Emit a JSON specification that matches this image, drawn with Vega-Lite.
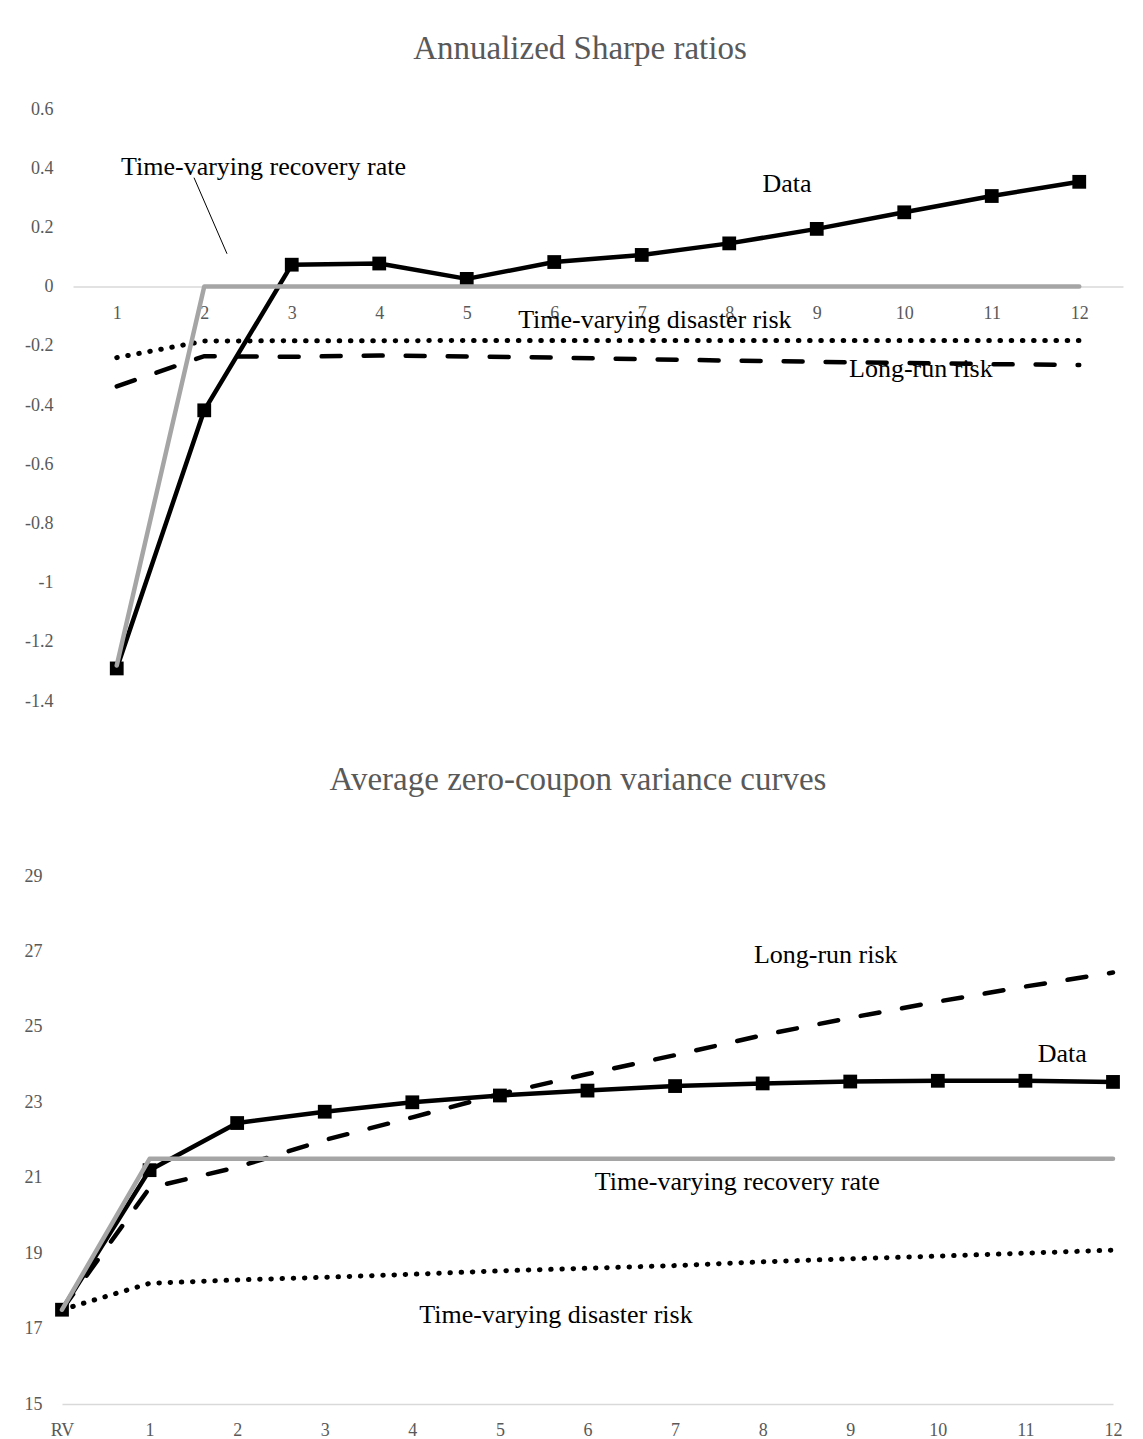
{
  "$schema": "https://vega.github.io/schema/vega-lite/v6.json",
  "padding": {"left": 24, "top": 33, "right": 0, "bottom": 0},
  "background": "white",
  "spacing": 54,
  "config": {
    "font": "Liberation Serif",
    "view": {"stroke": null},
    "axis": {"labelFont": "Liberation Serif", "labelColor": "#595959", "labelFontSize": 18, "ticks": false, "grid": false, "title": null}
  },
  "datasets": {
    "sharpe": [
      {"m": 1, "v": -1.29, "series": "Data"}, {"m": 2, "v": -0.418, "series": "Data"}, {"m": 3, "v": 0.074, "series": "Data"}, {"m": 4, "v": 0.078, "series": "Data"},
      {"m": 5, "v": 0.026, "series": "Data"}, {"m": 6, "v": 0.083, "series": "Data"}, {"m": 7, "v": 0.107, "series": "Data"}, {"m": 8, "v": 0.146, "series": "Data"},
      {"m": 9, "v": 0.195, "series": "Data"}, {"m": 10, "v": 0.251, "series": "Data"}, {"m": 11, "v": 0.306, "series": "Data"}, {"m": 12, "v": 0.354, "series": "Data"},
      {"m": 1, "v": -0.337, "series": "Long-run risk"}, {"m": 2, "v": -0.235, "series": "Long-run risk"}, {"m": 3, "v": -0.237, "series": "Long-run risk"}, {"m": 4, "v": -0.233, "series": "Long-run risk"},
      {"m": 5, "v": -0.236, "series": "Long-run risk"}, {"m": 6, "v": -0.24, "series": "Long-run risk"}, {"m": 7, "v": -0.245, "series": "Long-run risk"}, {"m": 8, "v": -0.25, "series": "Long-run risk"},
      {"m": 9, "v": -0.254, "series": "Long-run risk"}, {"m": 10, "v": -0.258, "series": "Long-run risk"}, {"m": 11, "v": -0.262, "series": "Long-run risk"}, {"m": 12, "v": -0.265, "series": "Long-run risk"},
      {"m": 1, "v": -0.24, "series": "Time-varying disaster risk"}, {"m": 2, "v": -0.184, "series": "Time-varying disaster risk"}, {"m": 3, "v": -0.183, "series": "Time-varying disaster risk"}, {"m": 4, "v": -0.183, "series": "Time-varying disaster risk"},
      {"m": 5, "v": -0.182, "series": "Time-varying disaster risk"}, {"m": 6, "v": -0.182, "series": "Time-varying disaster risk"}, {"m": 7, "v": -0.182, "series": "Time-varying disaster risk"}, {"m": 8, "v": -0.182, "series": "Time-varying disaster risk"},
      {"m": 9, "v": -0.182, "series": "Time-varying disaster risk"}, {"m": 10, "v": -0.182, "series": "Time-varying disaster risk"}, {"m": 11, "v": -0.182, "series": "Time-varying disaster risk"}, {"m": 12, "v": -0.182, "series": "Time-varying disaster risk"},
      {"m": 1, "v": -1.28, "series": "Time-varying recovery rate"}, {"m": 2, "v": 0, "series": "Time-varying recovery rate"}, {"m": 3, "v": 0, "series": "Time-varying recovery rate"}, {"m": 4, "v": 0, "series": "Time-varying recovery rate"},
      {"m": 5, "v": 0, "series": "Time-varying recovery rate"}, {"m": 6, "v": 0, "series": "Time-varying recovery rate"}, {"m": 7, "v": 0, "series": "Time-varying recovery rate"}, {"m": 8, "v": 0, "series": "Time-varying recovery rate"},
      {"m": 9, "v": 0, "series": "Time-varying recovery rate"}, {"m": 10, "v": 0, "series": "Time-varying recovery rate"}, {"m": 11, "v": 0, "series": "Time-varying recovery rate"}, {"m": 12, "v": 0, "series": "Time-varying recovery rate"}
    ],
    "sharpeLabels": [
      {"m": 2.677, "v": 0.378, "text": "Time-varying recovery rate"},
      {"m": 8.66, "v": 0.318, "text": "Data"},
      {"m": 7.15, "v": -0.139, "text": "Time-varying disaster risk"},
      {"m": 10.19, "v": -0.307, "text": "Long-run risk"}
    ],
    "sharpeLeader": [
      {"m": 1.883, "v": 0.368, "m2": 2.26, "v2": 0.111}
    ],
    "variance": [
      {"m": 0, "v": 17.5, "series": "Data"}, {"m": 1, "v": 21.2, "series": "Data"}, {"m": 2, "v": 22.45, "series": "Data"}, {"m": 3, "v": 22.75, "series": "Data"},
      {"m": 4, "v": 23.0, "series": "Data"}, {"m": 5, "v": 23.18, "series": "Data"}, {"m": 6, "v": 23.31, "series": "Data"}, {"m": 7, "v": 23.43, "series": "Data"},
      {"m": 8, "v": 23.5, "series": "Data"}, {"m": 9, "v": 23.55, "series": "Data"}, {"m": 10, "v": 23.57, "series": "Data"}, {"m": 11, "v": 23.57, "series": "Data"}, {"m": 12, "v": 23.54, "series": "Data"},
      {"m": 0, "v": 17.5, "series": "Long-run risk"}, {"m": 1, "v": 20.73, "series": "Long-run risk"}, {"m": 2, "v": 21.28, "series": "Long-run risk"}, {"m": 3, "v": 22.0, "series": "Long-run risk"},
      {"m": 4, "v": 22.6, "series": "Long-run risk"}, {"m": 5, "v": 23.22, "series": "Long-run risk"}, {"m": 6, "v": 23.75, "series": "Long-run risk"}, {"m": 7, "v": 24.25, "series": "Long-run risk"},
      {"m": 8, "v": 24.78, "series": "Long-run risk"}, {"m": 9, "v": 25.24, "series": "Long-run risk"}, {"m": 10, "v": 25.67, "series": "Long-run risk"}, {"m": 11, "v": 26.07, "series": "Long-run risk"}, {"m": 12, "v": 26.44, "series": "Long-run risk"},
      {"m": 0, "v": 17.5, "series": "Time-varying disaster risk"}, {"m": 1, "v": 18.2, "series": "Time-varying disaster risk"}, {"m": 2, "v": 18.29, "series": "Time-varying disaster risk"}, {"m": 3, "v": 18.36, "series": "Time-varying disaster risk"},
      {"m": 4, "v": 18.44, "series": "Time-varying disaster risk"}, {"m": 5, "v": 18.53, "series": "Time-varying disaster risk"}, {"m": 6, "v": 18.6, "series": "Time-varying disaster risk"}, {"m": 7, "v": 18.67, "series": "Time-varying disaster risk"},
      {"m": 8, "v": 18.77, "series": "Time-varying disaster risk"}, {"m": 9, "v": 18.85, "series": "Time-varying disaster risk"}, {"m": 10, "v": 18.92, "series": "Time-varying disaster risk"}, {"m": 11, "v": 19.0, "series": "Time-varying disaster risk"}, {"m": 12, "v": 19.08, "series": "Time-varying disaster risk"},
      {"m": 0, "v": 17.5, "series": "Time-varying recovery rate"}, {"m": 1, "v": 21.5, "series": "Time-varying recovery rate"}, {"m": 2, "v": 21.5, "series": "Time-varying recovery rate"}, {"m": 3, "v": 21.5, "series": "Time-varying recovery rate"},
      {"m": 4, "v": 21.5, "series": "Time-varying recovery rate"}, {"m": 5, "v": 21.5, "series": "Time-varying recovery rate"}, {"m": 6, "v": 21.5, "series": "Time-varying recovery rate"}, {"m": 7, "v": 21.5, "series": "Time-varying recovery rate"},
      {"m": 8, "v": 21.5, "series": "Time-varying recovery rate"}, {"m": 9, "v": 21.5, "series": "Time-varying recovery rate"}, {"m": 10, "v": 21.5, "series": "Time-varying recovery rate"}, {"m": 11, "v": 21.5, "series": "Time-varying recovery rate"}, {"m": 12, "v": 21.5, "series": "Time-varying recovery rate"}
    ],
    "varianceLabels": [
      {"m": 8.72, "v": 26.69, "text": "Long-run risk"},
      {"m": 11.42, "v": 24.07, "text": "Data"},
      {"m": 7.71, "v": 20.67, "text": "Time-varying recovery rate"},
      {"m": 5.64, "v": 17.15, "text": "Time-varying disaster risk"}
    ]
  },
  "vconcat": [
    {
      "width": 1050,
      "height": 592,
      "title": {"text": "Annualized Sharpe ratios", "fontSize": 33, "font": "Liberation Serif", "fontWeight": "normal", "color": "#595959", "offset": 34, "anchor": "middle", "dx": -18},
      "encoding": {
        "x": {"field": "m", "type": "quantitative", "scale": {"domain": [0.5, 12.5], "nice": false, "zero": false},
              "axis": {"orient": "bottom", "offset": -414.4, "values": [1, 2, 3, 4, 5, 6, 7, 8, 9, 10, 11, 12], "format": "d", "domainColor": "#d9d9d9", "domainWidth": 1.5, "labelPadding": 18, "labelFlush": false, "labelOverlap": false, "labelBound": false}},
        "y": {"field": "v", "type": "quantitative", "scale": {"domain": [-1.4, 0.6], "nice": false, "zero": false},
              "axis": {"values": [0.6, 0.4, 0.2, 0, -0.2, -0.4, -0.6, -0.8, -1, -1.2, -1.4], "domain": false, "labelPadding": 20,
                       "labelExpr": "datum.value == 0 ? '0' : (datum.value < 0 ? '-' + format(-datum.value, '.1~f') : format(datum.value, '.1~f'))"}}
      },
      "layer": [
        {"data": {"name": "sharpe"}, "transform": [{"filter": "datum.series == 'Data'"}], "mark": {"type": "line", "color": "black", "strokeWidth": 4.5, "strokeJoin": "round"}},
        {"data": {"name": "sharpe"}, "transform": [{"filter": "datum.series == 'Data'"}], "mark": {"type": "point", "shape": "square", "filled": true, "color": "black", "size": 190, "opacity": 1}},
        {"data": {"name": "sharpe"}, "transform": [{"filter": "datum.series == 'Long-run risk'"}], "mark": {"type": "line", "color": "black", "strokeWidth": 4.5, "strokeDash": [19, 23], "strokeCap": "round"}},
        {"data": {"name": "sharpe"}, "transform": [{"filter": "datum.series == 'Time-varying disaster risk'"}], "mark": {"type": "line", "color": "black", "strokeWidth": 5, "strokeDash": [0.5, 10.7], "strokeCap": "round"}},
        {"data": {"name": "sharpe"}, "transform": [{"filter": "datum.series == 'Time-varying recovery rate'"}], "mark": {"type": "line", "color": "#a5a5a5", "strokeWidth": 4.5, "strokeCap": "round", "strokeJoin": "round"}},
        {"data": {"name": "sharpeLeader"}, "mark": {"type": "rule", "color": "black", "strokeWidth": 1},
         "encoding": {"x2": {"field": "m2"}, "y2": {"field": "v2"}}},
        {"data": {"name": "sharpeLabels"}, "mark": {"type": "text", "font": "Liberation Serif", "fontSize": 26, "color": "black", "align": "center", "baseline": "alphabetic"},
         "encoding": {"text": {"field": "text"}}}
      ]
    },
    {
      "width": 1040,
      "height": 528,
      "title": {"text": "Average zero-coupon variance curves", "fontSize": 33, "font": "Liberation Serif", "fontWeight": "normal", "color": "#595959", "offset": 70, "anchor": "middle", "dx": -15},
      "encoding": {
        "x": {"field": "m", "type": "quantitative", "scale": {"domain": [0, 12], "range": [-11, 1040], "nice": false, "zero": false},
              "axis": {"values": [0, 1, 2, 3, 4, 5, 6, 7, 8, 9, 10, 11, 12], "labelExpr": "datum.value == 0 ? 'RV' : datum.label", "format": "d", "domainColor": "#d9d9d9", "domainWidth": 1.5, "labelPadding": 17, "labelFlush": false, "labelOverlap": false, "labelBound": false}},
        "y": {"field": "v", "type": "quantitative", "scale": {"domain": [15, 29], "nice": false, "zero": false},
              "axis": {"values": [15, 17, 19, 21, 23, 25, 27, 29], "domain": false, "labelPadding": 31, "format": "d"}}
      },
      "layer": [
        {"data": {"name": "variance"}, "transform": [{"filter": "datum.series == 'Data'"}], "mark": {"type": "line", "color": "black", "strokeWidth": 4.5, "strokeJoin": "round", "clip": false}},
        {"data": {"name": "variance"}, "transform": [{"filter": "datum.series == 'Data'"}], "mark": {"type": "point", "shape": "square", "filled": true, "color": "black", "size": 190, "opacity": 1, "clip": false}},
        {"data": {"name": "variance"}, "transform": [{"filter": "datum.series == 'Long-run risk'"}], "mark": {"type": "line", "color": "black", "strokeWidth": 4.5, "strokeDash": [19, 23], "strokeCap": "round", "clip": false}},
        {"data": {"name": "variance"}, "transform": [{"filter": "datum.series == 'Time-varying disaster risk'"}], "mark": {"type": "line", "color": "black", "strokeWidth": 5, "strokeDash": [0.5, 10.7], "strokeCap": "round", "clip": false}},
        {"data": {"name": "variance"}, "transform": [{"filter": "datum.series == 'Time-varying recovery rate'"}], "mark": {"type": "line", "color": "#a5a5a5", "strokeWidth": 4.5, "strokeCap": "round", "strokeJoin": "round", "clip": false}},
        {"data": {"name": "varianceLabels"}, "mark": {"type": "text", "font": "Liberation Serif", "fontSize": 26, "color": "black", "align": "center", "baseline": "alphabetic"},
         "encoding": {"text": {"field": "text"}}}
      ]
    }
  ]
}
